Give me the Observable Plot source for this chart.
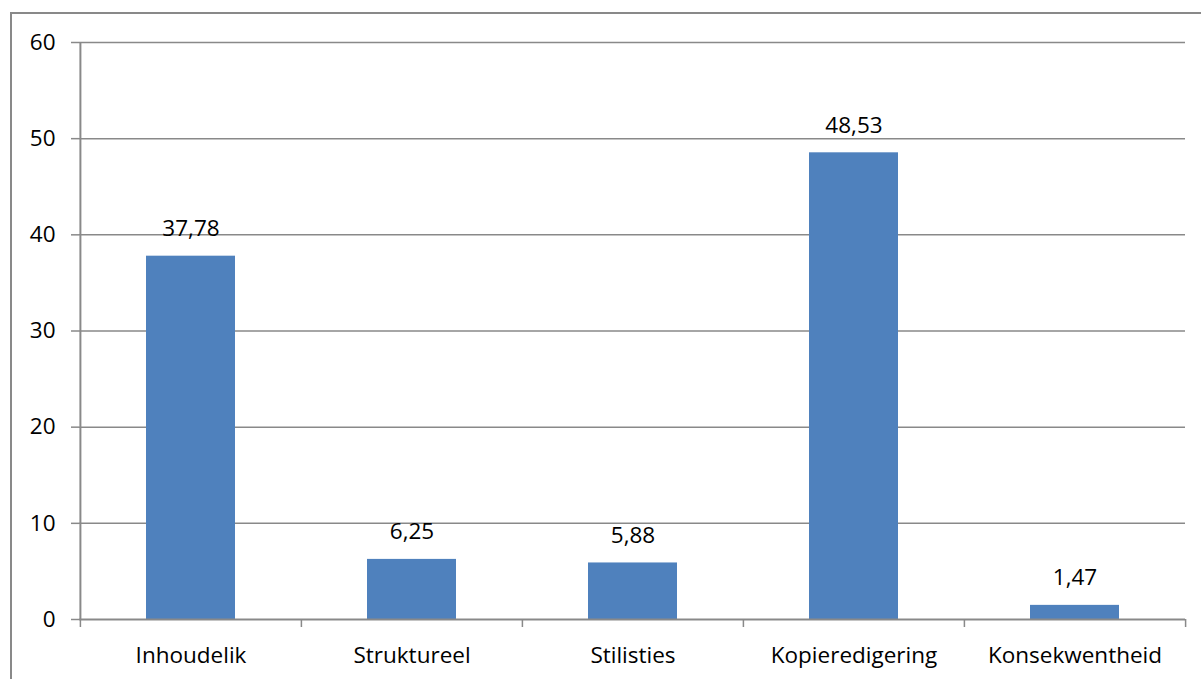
<!DOCTYPE html>
<html>
<head>
<meta charset="utf-8">
<script src="https://cdn.jsdelivr.net/npm/d3@7"></script>
<script src="https://cdn.jsdelivr.net/npm/@observablehq/plot@0.6"></script>
<style>
  html, body { margin: 0; padding: 0; background: #fff; overflow: hidden; }
  #wrap { position: relative; width: 1201px; height: 679px; }
  #frame { position: absolute; left: 10px; top: 12px; width: 1300px; height: 800px;
           border: 2px solid #898989; box-sizing: border-box; pointer-events: none; }
  #wrap svg { position: absolute; left: 0; top: 0; }
</style>
</head>
<body>
<div id="wrap"><div id="frame"></div></div>
<script>
const categories = ["Inhoudelik", "Struktureel", "Stilisties", "Kopieredigering", "Konsekwentheid"];
const values = [37.78, 6.25, 5.88, 48.53, 1.47];
const yTicks = [0, 10, 20, 30, 40, 50, 60];

const data = categories.map((c, i) => ({category: c, value: values[i]}));
const fmt = v => v.toFixed(2).replace(".", ",");
const gridColor = "#898989";
const font = "'Open Sans', Lato, sans-serif";
const half = (1201 - 79 - 16) / categories.length / 2;

const chart = Plot.plot({
  width: 1201,
  height: 679,
  marginLeft: 79,
  marginRight: 16,
  marginTop: 42,
  marginBottom: 60,
  style: {fontSize: "22.5px", fontFamily: font, color: "#000", background: "transparent"},
  x: {domain: categories, padding: 0, label: null},
  y: {domain: [0, 60], label: null},
  marks: [
    Plot.ruleY(yTicks.filter(d => d > 0), {stroke: gridColor, strokeWidth: 1.5, strokeOpacity: 1}),
    Plot.barY(data, {x: "category", y: "value", fill: "#4F81BD", insetLeft: 66, insetRight: 66}),
    Plot.text(data, {x: "category", y: "value", text: d => fmt(d.value), lineAnchor: "bottom", dy: -20, fontSize: 22.5, fill: "#000"}),
    Plot.axisY({ticks: yTicks, tickSize: 8, tickPadding: 16, stroke: gridColor, strokeWidth: 1.5, strokeOpacity: 1, fontSize: 22.5, label: null}),
    Plot.ruleX([categories[0]], {stroke: gridColor, strokeWidth: 2, dx: -half}),
    Plot.ruleY([0], {stroke: gridColor, strokeWidth: 2}),
    Plot.axisX({ticks: categories, tickSize: 8, tickFormat: () => "", dx: -half, stroke: gridColor, strokeWidth: 1.5, strokeOpacity: 1, label: null}),
    Plot.axisX({ticks: categories.slice(-1), tickSize: 8, tickFormat: () => "", dx: half, stroke: gridColor, strokeWidth: 1.5, strokeOpacity: 1, label: null}),
    Plot.axisX({tickSize: 0, tickPadding: 28, fontSize: 22.5, label: null})
  ]
});
document.getElementById("wrap").appendChild(chart);
</script>
</body>
</html>
